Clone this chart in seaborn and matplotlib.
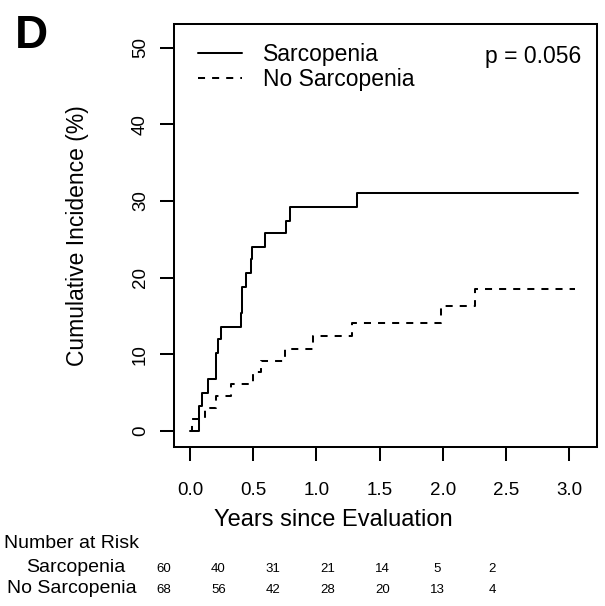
import numpy as np
import pandas as pd
import matplotlib
matplotlib.use("Agg")
import matplotlib.pyplot as plt
import seaborn as sns

# ---- data ----
groups = ["Sarcopenia", "No Sarcopenia"]
sarc_time = [0, 0.07, 0.097, 0.14, 0.203, 0.22, 0.245, 0.40, 0.412, 0.441,
             0.48, 0.488, 0.594, 0.757, 0.792, 1.32, 3.07]
sarc_ci = [0, 3.3, 5.0, 6.74, 10.14, 11.96, 13.6, 15.35, 18.8, 20.57,
           22.4, 24.04, 25.8, 27.43, 29.26, 31.0, 31.0]
nosarc_time = [0, 0.013, 0.119, 0.203, 0.325, 0.502, 0.563, 0.752, 0.97,
               1.28, 1.99, 2.26, 3.05]
nosarc_ci = [0, 1.53, 2.96, 4.57, 6.09, 7.74, 9.17, 10.7, 12.43, 14.05,
             16.3, 18.52, 18.52]
x_ticks = [0.0, 0.5, 1.0, 1.5, 2.0, 2.5, 3.0]
x_tick_labels = ["0.0", "0.5", "1.0", "1.5", "2.0", "2.5", "3.0"]
y_ticks = [0, 10, 20, 30, 40, 50]
y_tick_labels = ["0", "10", "20", "30", "40", "50"]
risk_sarc = [60, 40, 31, 21, 14, 5, 2]
risk_nosarc = [68, 56, 42, 28, 20, 13, 4]
p_text = "p = 0.056"

sns.set_theme(style="ticks")
plt.rcParams["font.family"] = ["Liberation Sans", "DejaVu Sans"]
plt.rcParams["text.color"] = "black"
plt.rcParams["axes.labelcolor"] = "black"
plt.rcParams["xtick.color"] = "black"
plt.rcParams["ytick.color"] = "black"
plt.rcParams["xtick.labelcolor"] = "black"
plt.rcParams["ytick.labelcolor"] = "black"

W, H = 605, 606
fig = plt.figure(figsize=(W / 100, H / 100), dpi=100)
ax = fig.add_axes([174 / W, 1 - 447 / H, 423 / W, 423 / H])

lw = 1.45
sns.lineplot(x=sarc_time, y=sarc_ci, drawstyle="steps-post", estimator=None,
             color="black", linewidth=lw, ax=ax, label=groups[0])
sns.lineplot(x=nosarc_time, y=nosarc_ci, drawstyle="steps-post", estimator=None,
             color="black", linewidth=lw, linestyle=(0, (3.5, 3.5)), ax=ax,
             label=groups[1])

ax.set_xlim(-0.127, 3.222)
ax.set_ylim(-2.09, 53.1)
ax.set_xticks(x_ticks)
ax.set_xticklabels(x_tick_labels)
ax.set_yticks(y_ticks)
ax.set_yticklabels(y_tick_labels, rotation=90, va="center")
for s in ax.spines.values():
    s.set_visible(True)
    s.set_linewidth(lw)
    s.set_color("black")
ax.tick_params(axis="both", direction="out", length=10, width=lw,
               color="black", labelsize=13.5, labelcolor="black")
ax.tick_params(axis="x", pad=15.5)
ax.tick_params(axis="y", pad=8)

ax.set_xlabel("Years since Evaluation", fontsize=17, color="black", va="center")
ax.xaxis.set_label_coords((333 - 174) / 423, -(520 - 447) / 423)
ax.set_ylabel("Cumulative Incidence (%)", fontsize=16.5, color="black", va="center")
ax.yaxis.set_label_coords((78 - 174) / 423, 0.5)

leg = ax.legend(loc="upper left", bbox_to_anchor=(0.0567, 0.954), frameon=False,
                borderpad=0, borderaxespad=0, handlelength=1.92,
                handletextpad=0.9, labelspacing=0.05, fontsize=16.5)
for t in leg.get_texts():
    t.set_color("black")

ax.text((581.7 - 174) / 423, 1 - (57 - 24) / 423, p_text, ha="right",
        va="center", fontsize=16.5, color="black", transform=ax.transAxes)

fig.text(15 / W, 1 - 48 / H, "D", fontsize=33, fontweight="bold",
         ha="left", va="baseline", color="black")

fig.text(72 / W, 1 - 548 / H, "Number at Risk", ha="center", va="baseline", fontsize=14)
fig.text(76 / W, 1 - 572 / H, groups[0], ha="center", va="baseline", fontsize=14)
fig.text(71.5 / W, 1 - 593 / H, groups[1], ha="center", va="baseline", fontsize=14)
for k, (a, b) in enumerate(zip(risk_sarc, risk_nosarc)):
    xc = (163.7 + 54.7 * k) / W
    fig.text(xc, 1 - 572 / H, str(a), ha="center", va="baseline", fontsize=9.5)
    fig.text(xc, 1 - 593 / H, str(b), ha="center", va="baseline", fontsize=9.5)

fig.savefig("out.png", dpi=100)
